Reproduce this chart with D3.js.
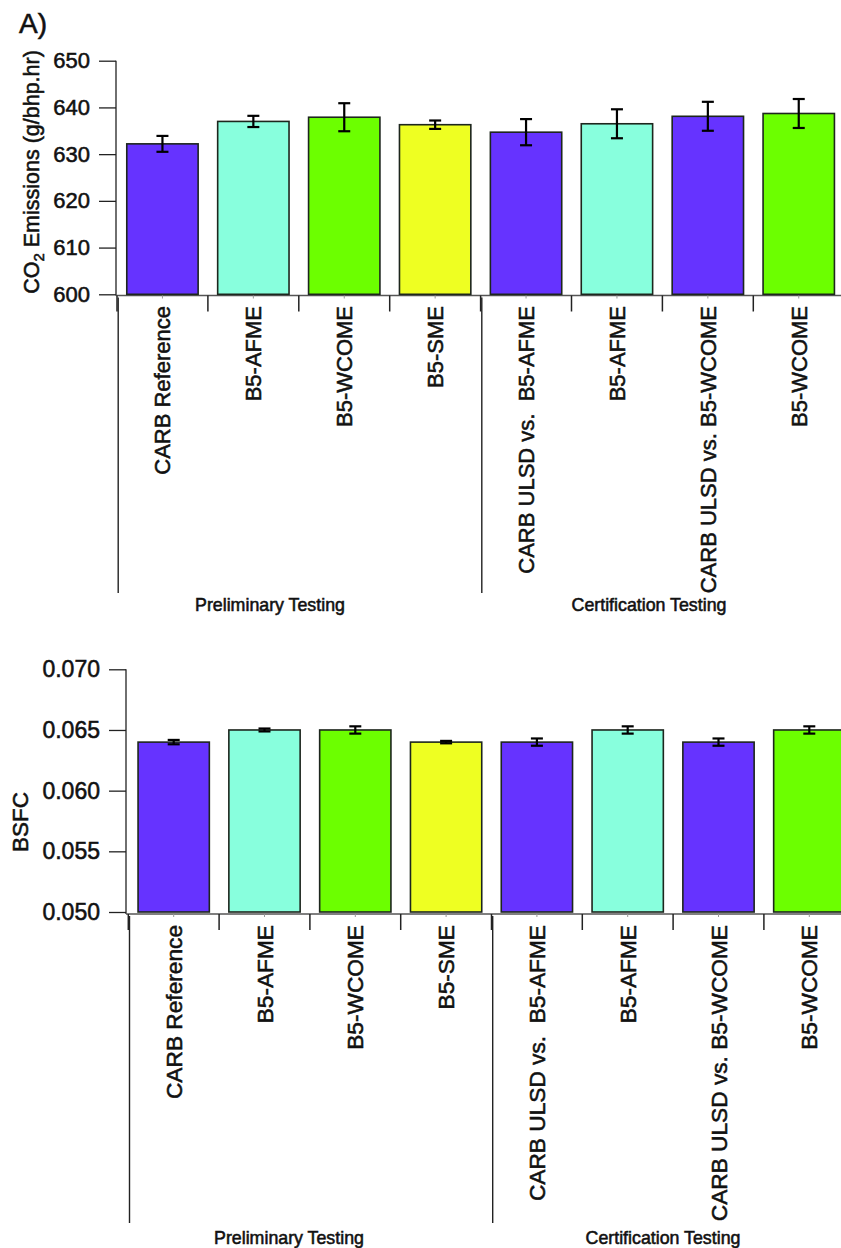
<!DOCTYPE html>
<html>
<head>
<meta charset="utf-8">
<script src="https://cdn.jsdelivr.net/npm/d3@7"></script>
<style>
  html, body { margin: 0; padding: 0; background: #fff; }
  svg { display: block; font-family: "Liberation Sans", Arial, sans-serif; }
  svg text { stroke: #111; stroke-width: 0.55px; paint-order: stroke; }
</style>
</head>
<body>
<svg id="chart" width="841" height="1248"></svg>
<script>
// ---------- data ----------
const categories = [
  "CARB Reference", "B5-AFME", "B5-WCOME", "B5-SME",
  "CARB ULSD vs.  B5-AFME", "B5-AFME", "CARB ULSD vs. B5-WCOME", "B5-WCOME"
];
const groupNames = ["Preliminary Testing", "Certification Testing"];
const groupSizes = [4, 4];
const barColors = ["#6633ff", "#88ffdd", "#6cff00", "#eeff22", "#6633ff", "#88ffdd", "#6633ff", "#6cff00"];

const co2Values = [632.2, 637.0, 637.9, 636.3, 634.7, 636.5, 638.1, 638.7];
const co2Errors = [1.7, 1.2, 3.0, 0.9, 2.8, 3.1, 3.1, 3.1];
const co2Ticks = [600, 610, 620, 630, 640, 650];

const bsfcValues = [0.064, 0.065, 0.065, 0.064, 0.064, 0.065, 0.064, 0.065];
const bsfcErrors = [0.00018, 0.00012, 0.0003, 0.0001, 0.0003, 0.0003, 0.0003, 0.0003];
const bsfcTicks = [0.050, 0.055, 0.060, 0.065, 0.070];

// ---------- drawing ----------
const svg = d3.select("#chart");
const FONT = "\"Liberation Sans\", Arial, sans-serif";

svg.append("text").attr("x", 19).attr("y", 33)
  .attr("font-size", 28).attr("fill", "#111").text("A)");

function panel(cfg) {
  const g = svg.append("g");
  const x = d3.scaleBand().domain(d3.range(categories.length))
    .range([cfg.x0, cfg.x0 + cfg.step * categories.length])
    .paddingInner(0.215).paddingOuter(0.1075);
  const y = d3.scaleLinear().domain(cfg.domain).range([cfg.yBottom, cfg.yTop]);

  // y axis
  const yAxis = d3.axisLeft(y).tickValues(cfg.ticks).tickFormat(cfg.fmt)
    .tickSize(17).tickSizeOuter(0).tickPadding(9);
  const ya = g.append("g").attr("transform", `translate(${cfg.axisX},0)`).call(yAxis);
  ya.select(".domain").attr("stroke", "#222").attr("stroke-width", 1.3)
    .attr("d", `M0,${cfg.yTop}V${cfg.axisY}`);
  ya.selectAll(".tick line").attr("stroke", "#222").attr("stroke-width", 1.3);
  ya.selectAll(".tick text").attr("font-size", cfg.tickFont).attr("fill", "#111")
    .attr("font-family", FONT);

  // x axis baseline
  g.append("line").attr("x1", cfg.axisX).attr("x2", 841)
    .attr("y1", cfg.axisY).attr("y2", cfg.axisY)
    .attr("stroke", "#555").attr("stroke-width", 1.5);

  // bars
  g.selectAll("rect.bar").data(cfg.values).join("rect").attr("class", "bar")
    .attr("x", (d, i) => x(i)).attr("width", x.bandwidth())
    .attr("y", d => y(d)).attr("height", d => y(cfg.domain[0]) - y(d))
    .attr("fill", (d, i) => barColors[i])
    .attr("stroke", "#1d261d").attr("stroke-width", 1.6);

  // error bars
  const eg = g.selectAll("g.err").data(cfg.values).join("g").attr("class", "err")
    .attr("stroke", "#000").attr("stroke-width", 2.2);
  const cx = i => x(i) + x.bandwidth() / 2;
  eg.append("line").attr("x1", (d, i) => cx(i)).attr("x2", (d, i) => cx(i))
    .attr("y1", (d, i) => y(d + cfg.errors[i])).attr("y2", (d, i) => y(d - cfg.errors[i]));
  eg.append("line").attr("x1", (d, i) => cx(i) - 6).attr("x2", (d, i) => cx(i) + 6)
    .attr("y1", (d, i) => y(d + cfg.errors[i])).attr("y2", (d, i) => y(d + cfg.errors[i]));
  eg.append("line").attr("x1", (d, i) => cx(i) - 6).attr("x2", (d, i) => cx(i) + 6)
    .attr("y1", (d, i) => y(d - cfg.errors[i])).attr("y2", (d, i) => y(d - cfg.errors[i]));

  // small centre ticks
  g.selectAll("line.ctick").data(categories).join("line").attr("class", "ctick")
    .attr("x1", (d, i) => cx(i)).attr("x2", (d, i) => cx(i))
    .attr("y1", cfg.axisY).attr("y2", cfg.axisY + 3)
    .attr("stroke", "#999").attr("stroke-width", 1);

  // category divider ticks
  const step = x.step();
  const bounds = d3.range(categories.length).map(i => x(i) - step * 0.1075);
  g.selectAll("line.div").data(bounds).join("line").attr("class", "div")
    .attr("x1", d => d).attr("x2", d => d)
    .attr("y1", cfg.axisY).attr("y2", cfg.axisY + 16)
    .attr("stroke", "#222").attr("stroke-width", 1.5);

  // group separators (long lines)
  let start = 0;
  const groupStarts = groupSizes.map(s => { const v = start; start += s; return v; });
  groupStarts.forEach(gs => {
    const bx = x(gs) - step * 0.1075 + 1.2;
    g.append("line").attr("x1", bx).attr("x2", bx)
      .attr("y1", cfg.axisY + 2).attr("y2", cfg.sepBottom)
      .attr("stroke", "#222").attr("stroke-width", 1.4);
  });

  // category labels
  g.selectAll("text.cat").data(categories).join("text").attr("class", "cat")
    .attr("transform", (d, i) => `translate(${cx(i)},${cfg.labelTop}) rotate(-90)`)
    .attr("text-anchor", "end").attr("dy", "0.36em")
    .attr("font-size", cfg.catFont).attr("fill", "#111")
    .style("white-space", "pre")
    .text(d => d);

  // group labels
  g.selectAll("text.grp").data(groupNames).join("text").attr("class", "grp")
    .attr("x", (d, i) => cfg.groupX[i]).attr("y", cfg.groupY)
    .attr("text-anchor", "middle").attr("font-size", cfg.groupFont).attr("fill", "#111")
    .text(d => d);

  return { g, x, y };
}

// Panel A: CO2
panel({
  x0: 117, step: 90.9, domain: [600, 650], yBottom: 294.3, yTop: 60.7,
  axisX: 116, axisY: 295.5, ticks: co2Ticks, fmt: d3.format("d"),
  values: co2Values, errors: co2Errors, tickFont: 22, catFont: 22,
  labelTop: 306, sepBottom: 593, groupX: [270, 649], groupY: 611, groupFont: 17.8
});
// y title with subscript
const t1 = svg.append("text")
  .attr("transform", "translate(39,172) rotate(-90)")
  .attr("text-anchor", "middle").attr("font-size", 21.5).attr("fill", "#111");
t1.append("tspan").text("CO");
t1.append("tspan").attr("font-size", 15).attr("dy", 5).text("2");
t1.append("tspan").attr("dy", -5).text(" Emissions (g/bhp.hr)");

// Panel B: BSFC
panel({
  x0: 128.3, step: 90.8, domain: [0.050, 0.070], yBottom: 912, yTop: 669.3,
  axisX: 126, axisY: 914, ticks: bsfcTicks, fmt: d3.format(".3f"),
  values: bsfcValues, errors: bsfcErrors, tickFont: 23, catFont: 22.7,
  labelTop: 925, sepBottom: 1223, groupX: [289, 663], groupY: 1244, groupFont: 17.8
});
svg.append("text")
  .attr("transform", "translate(28,822) rotate(-90)")
  .attr("text-anchor", "middle").attr("font-size", 22.5).attr("fill", "#111")
  .text("BSFC");
</script>
</body>
</html>
